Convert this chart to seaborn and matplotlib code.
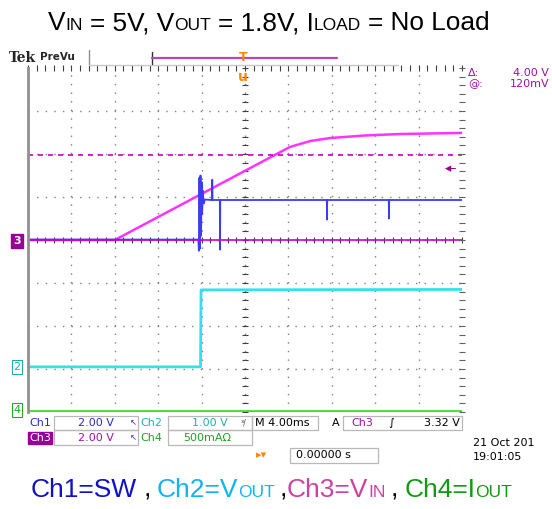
import numpy as np
import pandas as pd
import matplotlib.pyplot as plt
import matplotlib.patches as mpatches
import seaborn as sns

W, H = 552, 509

# scope timebase: 4 ms/div, 10 div, trigger in the middle
x_range_ms = [-20, 20]
y_range_div = [-4, 4]

# volts (or amps) per division and ground position in divisions
ch_scale = {"Ch1": 2.0, "Ch2": 1.0, "Ch3": 2.0, "Ch4": 0.5}
ch_offset = {"Ch1": 0.0, "Ch2": -2.95, "Ch3": 0.0, "Ch4": -3.97}

sw_t = [-20, -4.30, -4.25, -4.20, -4.15, -4.10, -4.05, -4.00, -3.95, -3.90, -3.80, -3.70,
        -3.05, -3.02, -2.99, -2.32, -2.30, -2.28, 7.54, 7.56, 7.58, 13.25, 13.27, 13.29, 20]
sw_v = [0.02, 0.02, -0.5, 2.9, -0.4, 3.0, 0.2, 2.7, 1.2, 2.3, 1.7, 1.88,
        1.86, 2.8, 1.86, 1.86, -0.45, 1.86, 1.86, 0.95, 1.86, 1.86, 1.0, 1.86, 1.86]

# Ch2 = VOUT (V)
vout_t = [-20, -4.10, -4.05, 20]
vout_v = [0.0, 0.0, 1.79, 1.80]

# Ch3 = VIN (V)
vin_t = [-20, -12.0, 4.15, 6.0, 7.8, 11.0, 14.3, 20]
vin_v = [0.0, 0.0, 4.33, 4.60, 4.74, 4.86, 4.93, 4.98]

# Ch4 = IOUT (A)
iout_t = [-20, 20]
iout_v = [0.0, 0.0]

cursor_levels_v = [0.0, 3.96]
trigger_level_v = 3.32

trace_colors = {"Ch1": "#3c3cf0", "Ch2": "#33e0ee", "Ch3": "#ff33ff", "Ch4": "#44dd33"}
trace_widths = {"Ch1": 1.3, "Ch2": 2.0, "Ch3": 1.8, "Ch4": 2.0}

sns.set_theme(style="white")
plt.rcParams["font.family"] = ["DejaVu Sans"]


def px(x, y):
    return x / W, 1 - y / H


def runs_text(fig, runs, x0, y0, size, family):
    renderer = fig.canvas.get_renderer()
    x = x0
    for txt, color, sub, gap in runs:
        fs = size * 0.66 if sub else size
        t = fig.text(*px(x, y0), txt, color=color, fontsize=fs, ha="left",
                     va="baseline", family=family)
        x += t.get_window_extent(renderer).width + gap


def box(fig, x0, y0, x1, y1, ec="#b8b8b8", fc="none"):
    fig.patches.append(mpatches.Rectangle(px(x0, y1), (x1 - x0) / W, (y1 - y0) / H,
                                          transform=fig.transFigure, fc=fc, ec=ec, lw=0.9))


def main():
    fig = plt.figure(figsize=(W / 100, H / 100), dpi=100)
    fig.patch.set_facecolor("white")
    ax = fig.add_axes([28 / W, 1 - 412 / H, 434 / W, 344 / H])

    traces = [
        ("Ch4", iout_t, iout_v),
        ("Ch2", vout_t, vout_v),
        ("Ch3", vin_t, vin_v),
        ("Ch1", sw_t, sw_v),
    ]
    for ch, t, v in traces:
        df = pd.DataFrame({"t": t, "div": np.array(v) / ch_scale[ch] + ch_offset[ch]})
        sns.lineplot(data=df, x="t", y="div", ax=ax, color=trace_colors[ch],
                     lw=trace_widths[ch], estimator=None, sort=False, clip_on=True)

    # cursors on Ch3
    ax.axhline(cursor_levels_v[0] / ch_scale["Ch3"], color="#cc00cc", lw=1.2)
    ax.axhline(cursor_levels_v[1] / ch_scale["Ch3"], color="#cc00cc", lw=1.2,
               ls=(0, (3, 3)))

    ax.set_xlim(x_range_ms)
    ax.set_ylim(y_range_div)
    ax.set_xlabel("")
    ax.set_ylabel("")

    # graticule
    dot = (0, (1.0, 5.2))
    for gx in np.arange(-16, 20, 4):
        ax.axvline(gx, color="#808080", lw=1.0, ls=dot, zorder=0)
    for gy in np.arange(-3, 4, 1):
        ax.axhline(gy, color="#808080", lw=1.0, ls=dot, zorder=0)
    minor_x = np.arange(-20, 20.01, 0.8)
    minor_y = np.arange(-4, 4.01, 0.2)
    ax.plot(minor_x, np.zeros_like(minor_x), ls="none", marker="|", ms=4,
            color="#404040", mew=0.8, zorder=0)
    ax.plot(np.zeros_like(minor_y), minor_y, ls="none", marker="_", ms=4,
            color="#404040", mew=0.8, zorder=0)
    ax.plot(minor_x, np.full_like(minor_x, 4), ls="none", marker="|", ms=5,
            color="#404040", mew=0.8, clip_on=False)
    ax.plot(np.full_like(minor_y, 20), minor_y, ls="none", marker="_", ms=4,
            color="#606060", mew=0.8, clip_on=False)
    ax.set_xticks([])
    ax.set_yticks([])
    for side in ["top", "right", "bottom"]:
        ax.spines[side].set_visible(False)
    ax.spines["left"].set_color("#909090")
    ax.spines["left"].set_linewidth(2.0)

    # trigger level arrow
    ax.text(19.6, trigger_level_v / ch_scale["Ch3"], "\u25c2\u2013", color="#990099",
            fontsize=9, ha="right", va="center")

    # ground markers
    fig.text(*px(17, 241), "3", color="white", fontsize=8, fontweight="bold",
             ha="center", va="center",
             bbox=dict(boxstyle="square,pad=0.2", fc="#990099", ec="#990099"))
    fig.text(*px(17, 367), "2", color="#22aaaa", fontsize=8, ha="center", va="center",
             bbox=dict(boxstyle="square,pad=0.15", fc="white", ec="#22aaaa", lw=0.8))
    fig.text(*px(17, 410), "4", color="#22aa22", fontsize=8, ha="center", va="center",
             bbox=dict(boxstyle="square,pad=0.15", fc="white", ec="#22aa22", lw=0.8))

    # header
    fig.text(*px(9, 58), "Tek", fontsize=10, fontweight="bold", family="DejaVu Serif",
             va="center")
    fig.text(*px(40, 57), "PreVu", fontsize=7.5, fontweight="bold", va="center")
    fig.lines.append(plt.Line2D([89 / W, 89 / W], [1 - 50 / H, 1 - 65 / H],
                                transform=fig.transFigure, color="#909090", lw=1))
    fig.lines.append(plt.Line2D([89 / W, 398 / W], [1 - 65 / H, 1 - 65 / H],
                                transform=fig.transFigure, color="#c8c8c8", lw=1))
    fig.lines.append(plt.Line2D([152 / W, 152 / W], [1 - 52 / H, 1 - 64 / H],
                                transform=fig.transFigure, color="#303030", lw=1))
    fig.lines.append(plt.Line2D([152 / W, 337 / W], [1 - 58 / H, 1 - 58 / H],
                                transform=fig.transFigure, color="#bb44bb", lw=1.6))
    fig.text(*px(243, 58), "T", color="#ff8800", fontsize=9, fontweight="bold",
             ha="center", va="center")
    fig.text(*px(243, 77), "u", color="#ff8800", fontsize=10, fontweight="bold",
             ha="center", va="center")

    # cursor readout
    mag = "#a010a8"
    fig.text(*px(468, 73), "\u0394:", color=mag, fontsize=8, va="center")
    fig.text(*px(549, 73), "4.00 V", color=mag, fontsize=8, va="center", ha="right")
    fig.text(*px(468, 84), "@:", color=mag, fontsize=8, va="center")
    fig.text(*px(549, 84), "120mV", color=mag, fontsize=8, va="center", ha="right")

    # bottom readouts
    blue, cyan, green = "#2a2acc", "#20b0b0", "#22a022"
    box(fig, 54, 416, 138, 430)
    box(fig, 168, 416, 252, 430)
    box(fig, 252, 416, 318, 430)
    box(fig, 343, 416, 462, 430)
    box(fig, 54, 430, 138, 445)
    box(fig, 168, 430, 252, 445)
    box(fig, 290, 448, 378, 463)
    fig.text(*px(29, 423), "Ch1", color=blue, fontsize=8, va="center")
    fig.text(*px(96, 423), "2.00 V", color=blue, fontsize=8, va="center", ha="center")
    fig.text(*px(130, 423), "\u2196", color=blue, fontsize=6, va="center")
    fig.text(*px(140, 423), "Ch2", color=cyan, fontsize=8, va="center")
    fig.text(*px(210, 423), "1.00 V", color=cyan, fontsize=8, va="center", ha="center")
    fig.text(*px(241, 423), "\u00b3/", color="#404040", fontsize=5.5, va="center")
    fig.text(*px(255, 423), "M 4.00ms", color="black", fontsize=8, va="center")
    fig.text(*px(332, 423), "A", color="black", fontsize=8, va="center")
    fig.text(*px(351, 423), "Ch3", color=mag, fontsize=8, va="center")
    fig.text(*px(388, 423), "\u222b", color="black", fontsize=8, va="center")
    fig.text(*px(460, 423), "3.32 V", color="black", fontsize=8, va="center", ha="right")
    fig.text(*px(29, 438), "Ch3", color="white", fontsize=8, va="center",
             bbox=dict(boxstyle="square,pad=0.12", fc="#990099", ec="#990099"))
    fig.text(*px(96, 438), "2.00 V", color=mag, fontsize=8, va="center", ha="center")
    fig.text(*px(130, 438), "\u2196", color=blue, fontsize=6, va="center")
    fig.text(*px(140, 438), "Ch4", color=green, fontsize=8, va="center")
    fig.text(*px(207, 438), "500mA\u03a9", color=green, fontsize=8, va="center",
             ha="center")
    fig.text(*px(256, 455), "\u25b8\u25be", color="#ff8800", fontsize=8, va="center")
    fig.text(*px(296, 455), "0.00000 s", color="black", fontsize=8, va="center")
    fig.text(*px(473, 443), "21 Oct 201", color="black", fontsize=8, va="center")
    fig.text(*px(473, 457), "19:01:05", color="black", fontsize=8, va="center")

    # title and channel caption
    fam = ["Liberation Sans"]
    title_runs = [
        ("V", "black", False, 0), ("IN", "black", True, 7),
        ("= 5V, V", "black", False, 0), ("OUT", "black", True, 7),
        ("= 1.8V, I", "black", False, 0), ("LOAD", "black", True, 7),
        ("= No Load", "black", False, 0),
    ]
    runs_text(fig, title_runs, 48, 30, 18.9, fam)
    c1, c2, c3, c4 = "#1010c8", "#10b4f0", "#d040a0", "#109a10"
    cap_runs = [
        ("Ch1=SW", c1, False, 6), (",", "black", False, 6),
        ("Ch2=V", c2, False, 0), ("OUT", c2, True, 5),
        (",", "black", False, 0), ("Ch3=V", c3, False, 0), ("IN", c3, True, 5),
        (",", "black", False, 6), ("Ch4=I", c4, False, 0), ("OUT", c4, True, 0),
    ]
    runs_text(fig, cap_runs, 31, 497, 19, fam)

    fig.savefig("out.png", dpi=100)
    plt.close(fig)


if __name__ == "__main__":
    main()
